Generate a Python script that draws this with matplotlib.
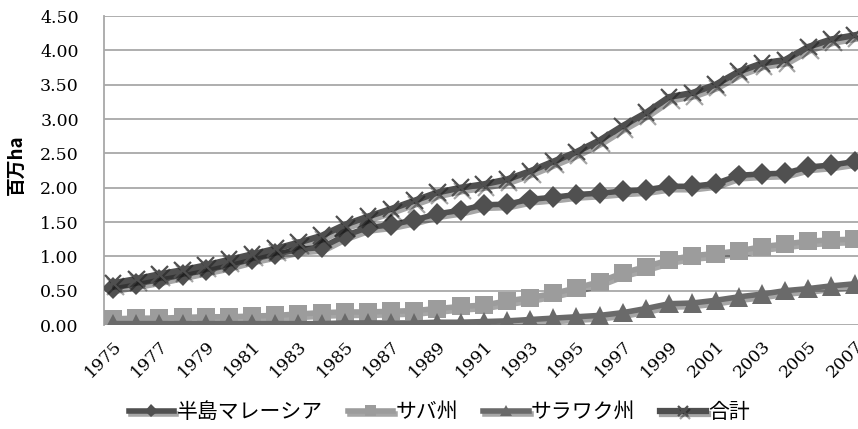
import matplotlib
matplotlib.use("Agg")
import matplotlib.pyplot as plt
import matplotlib.patheffects as pe
import matplotlib.transforms as mtransforms

years = list(range(1975, 2008))

peninsula = [0.54, 0.60, 0.66, 0.73, 0.80, 0.87, 0.96, 1.03, 1.10, 1.13,
             1.30, 1.42, 1.46, 1.53, 1.62, 1.67, 1.75, 1.76, 1.83, 1.86,
             1.90, 1.92, 1.95, 1.97, 2.02, 2.02, 2.06, 2.18, 2.20, 2.21,
             2.30, 2.33, 2.38]
sabah = [0.09, 0.10, 0.10, 0.11, 0.12, 0.12, 0.13, 0.14, 0.16, 0.18,
         0.19, 0.19, 0.20, 0.21, 0.24, 0.27, 0.29, 0.35, 0.40, 0.46,
         0.54, 0.63, 0.76, 0.85, 0.95, 1.01, 1.04, 1.08, 1.14, 1.18,
         1.22, 1.24, 1.25]
sarawak = [0.02, 0.02, 0.02, 0.02, 0.02, 0.02, 0.02, 0.02, 0.02, 0.02,
           0.03, 0.03, 0.03, 0.03, 0.04, 0.04, 0.05, 0.06, 0.08, 0.10,
           0.12, 0.14, 0.18, 0.24, 0.31, 0.32, 0.36, 0.41, 0.45, 0.50,
           0.53, 0.57, 0.60]
total = [0.61, 0.67, 0.74, 0.80, 0.87, 0.95, 1.03, 1.11, 1.20, 1.30,
         1.46, 1.58, 1.69, 1.81, 1.93, 2.00, 2.05, 2.12, 2.24, 2.38,
         2.52, 2.69, 2.90, 3.09, 3.32, 3.38, 3.50, 3.69, 3.81, 3.86,
         4.05, 4.16, 4.22]

names = ["半島マレーシア", "サバ州", "サラワク州", "合計"]
yticks = [0.0, 0.5, 1.0, 1.5, 2.0, 2.5, 3.0, 3.5, 4.0, 4.5]

fig = plt.figure(figsize=(8.58, 4.29), dpi=100)
ax = fig.add_axes([0.121, 0.2424, 0.879, 0.7203])

x = list(range(len(years)))
shadow = [pe.SimpleLineShadow(offset=(1.5, -2.5), alpha=0.35, shadow_color="#000000"), pe.Normal()]

ax.plot(x, peninsula, color="#505050", lw=4, marker="D", ms=11, mew=0,
        label=names[0], path_effects=shadow, zorder=3)
ax.plot(x, sabah, color="#9c9c9c", lw=4, marker="s", ms=13, mew=0,
        label=names[1], path_effects=shadow, zorder=4)
ax.plot(x, sarawak, color="#6a6a6a", lw=4, marker="^", ms=14, mew=0,
        label=names[2], path_effects=shadow, zorder=5)
ax.plot(x, total, color="#4f4f4f", lw=4.5, marker="x", ms=12, mew=1.6,
        label=names[3], path_effects=shadow, zorder=6)

ax.set_xlim(-0.4, 32.15)
ax.set_ylim(0, 4.5)
ax.set_yticks(yticks)
ax.set_yticklabels([f"{v:.2f}" for v in yticks], fontfamily="DejaVu Serif", fontsize=12.5)
ax.set_xticks(x[::2])
ax.set_xticklabels([str(y) for y in years[::2]], rotation=45, ha="right",
                   rotation_mode="anchor", fontfamily="DejaVu Serif", fontsize=12.5)
shift = mtransforms.ScaledTranslation(-4 / 100, 0, fig.dpi_scale_trans)
for lab in ax.get_xticklabels():
    lab.set_transform(lab.get_transform() + shift)
ax.tick_params(axis="y", length=0, pad=18)
ax.tick_params(axis="x", length=0, pad=9)
ax.grid(axis="y", color="#a8a8a8", lw=1.3)
ax.set_axisbelow(True)
for s in ["top", "right", "bottom"]:
    ax.spines[s].set_visible(False)
ax.spines["left"].set_color("#a8a8a8")
ax.spines["left"].set_linewidth(1.3)

ax.set_ylabel("百万ha", fontfamily=["Noto Sans CJK JP", "DejaVu Sans"], fontweight="bold",
              fontsize=13.5)
ax.yaxis.set_label_coords(-0.103, 0.52)

fig.legend(loc="center", bbox_to_anchor=(0.512, 0.04), ncol=4, frameon=False,
           prop={"family": "Noto Sans CJK JP", "size": 15}, handlelength=2.2,
           columnspacing=1.2, handletextpad=0.1, markerscale=0.6)

fig.savefig("out.png", dpi=100)
